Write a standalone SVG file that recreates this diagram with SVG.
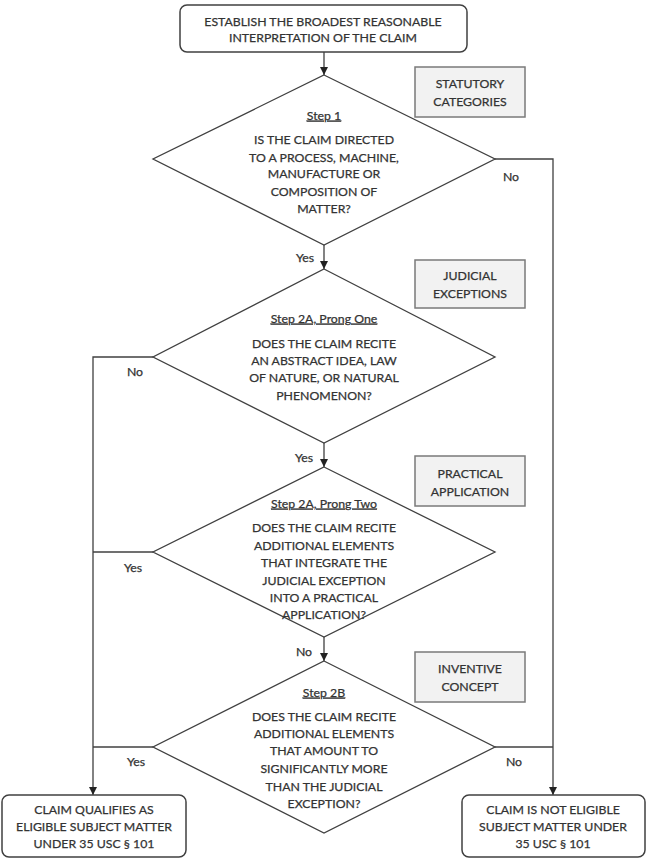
<svg xmlns="http://www.w3.org/2000/svg" width="650" height="867" viewBox="0 0 650 867">
<defs>
<style>
text{font-family:Lato,"Liberation Sans",sans-serif;font-size:12.3px;fill:#333;stroke:#333;stroke-width:0.25;text-anchor:middle}
.box{fill:#fff;stroke:#404040;stroke-width:1.5}
.dia{fill:#fff;stroke:#404040;stroke-width:1.3}
.tag{fill:#f2f2f2;stroke:#7a7a7a;stroke-width:1.5}
.ln{fill:none;stroke:#404040;stroke-width:1.3}
.u{text-decoration:underline}
</style>
<marker id="ah" viewBox="0 0 10 10" refX="10" refY="5" markerWidth="8" markerHeight="8" markerUnits="userSpaceOnUse" orient="auto"><path d="M0,0 L10,5 L0,10 z" fill="#222"/></marker>
</defs>
<rect width="650" height="867" fill="#fff"/>
<g id="connectors">
<path class="ln" d="M324,52 V75" marker-end="url(#ah)"/>
<path class="ln" d="M324,245 V269" marker-end="url(#ah)"/>
<path class="ln" d="M324,443 V467" marker-end="url(#ah)"/>
<path class="ln" d="M324,637 V661" marker-end="url(#ah)"/>
<path class="ln" d="M495,159 H553 V795" marker-end="url(#ah)"/>
<path class="ln" d="M495,747 H553"/>
<path class="ln" d="M153,357 H93 V795" marker-end="url(#ah)"/>
<path class="ln" d="M153,552 H93"/>
<path class="ln" d="M153,747 H93"/>
<text x="511" y="181">No</text>
<text x="305" y="262">Yes</text>
<text x="135" y="376">No</text>
<text x="304" y="462">Yes</text>
<text x="133" y="572">Yes</text>
<text x="304" y="656">No</text>
<text x="136" y="766">Yes</text>
<text x="514" y="766">No</text>
</g>
<g id="start">
<rect class="box" x="180" y="5" width="287" height="47" rx="7"/>
<text x="323" y="25.5">ESTABLISH THE BROADEST REASONABLE</text>
<text x="323" y="41.5">INTERPRETATION OF THE CLAIM</text>
</g>
<g id="step1">
<path class="dia" d="M324,75 L495,159 L324,245 L153,159 z"/>
<text class="u" x="324" y="119.5">Step 1</text>
<text x="324" y="143.5">IS THE CLAIM DIRECTED</text>
<text x="324" y="161.5">TO A PROCESS, MACHINE,</text>
<text x="324" y="177.5">MANUFACTURE OR</text>
<text x="324" y="195.5">COMPOSITION OF</text>
<text x="324" y="212.5">MATTER?</text>
</g>
<g id="tag1">
<rect class="tag" x="415" y="67" width="110" height="50"/>
<text x="470" y="87.5">STATUTORY</text>
<text x="470" y="105.5">CATEGORIES</text>
</g>
<g id="step2a1">
<path class="dia" d="M324,269 L495,357 L324,443 L153,357 z"/>
<text class="u" x="324" y="322.5">Step 2A, Prong One</text>
<text x="324" y="347.5">DOES THE CLAIM RECITE</text>
<text x="324" y="364.5">AN ABSTRACT IDEA, LAW</text>
<text x="324" y="381.5">OF NATURE, OR NATURAL</text>
<text x="324" y="399.5">PHENOMENON?</text>
</g>
<g id="tag2">
<rect class="tag" x="415" y="260" width="110" height="48"/>
<text x="470" y="279.5">JUDICIAL</text>
<text x="470" y="297.5">EXCEPTIONS</text>
</g>
<g id="step2a2">
<path class="dia" d="M324,467 L495,552 L324,637 L153,552 z"/>
<text class="u" x="324" y="507.5">Step 2A, Prong Two</text>
<text x="324" y="531.5">DOES THE CLAIM RECITE</text>
<text x="324" y="549.5">ADDITIONAL ELEMENTS</text>
<text x="324" y="566.5">THAT INTEGRATE THE</text>
<text x="324" y="584.5">JUDICIAL EXCEPTION</text>
<text x="324" y="601.5">INTO A PRACTICAL</text>
<text x="324" y="618.5">APPLICATION?</text>
</g>
<g id="tag3">
<rect class="tag" x="415" y="456" width="110" height="50"/>
<text x="470" y="477.5">PRACTICAL</text>
<text x="470" y="495.5">APPLICATION</text>
</g>
<g id="step2b">
<path class="dia" d="M324,661 L495,747 L324,833 L153,747 z"/>
<text class="u" x="324" y="696.5">Step 2B</text>
<text x="324" y="720.5">DOES THE CLAIM RECITE</text>
<text x="324" y="737.5">ADDITIONAL ELEMENTS</text>
<text x="324" y="754.5">THAT AMOUNT TO</text>
<text x="324" y="772.5">SIGNIFICANTLY MORE</text>
<text x="324" y="790.5">THAN THE JUDICIAL</text>
<text x="324" y="807.5">EXCEPTION?</text>
</g>
<g id="tag4">
<rect class="tag" x="415" y="652" width="110" height="50"/>
<text x="470" y="672.5">INVENTIVE</text>
<text x="470" y="690.5">CONCEPT</text>
</g>
<g id="eligible">
<rect class="box" x="2" y="795" width="184" height="62" rx="7"/>
<text x="94" y="813.5">CLAIM QUALIFIES AS</text>
<text x="94" y="830.5">ELIGIBLE SUBJECT MATTER</text>
<text x="94" y="847.5">UNDER 35 USC § 101</text>
</g>
<g id="noteligible">
<rect class="box" x="462" y="795" width="183" height="62" rx="7"/>
<text x="553" y="813.5">CLAIM IS NOT ELIGIBLE</text>
<text x="553" y="830.5">SUBJECT MATTER UNDER</text>
<text x="553" y="847.5">35 USC § 101</text>
</g>
</svg>
